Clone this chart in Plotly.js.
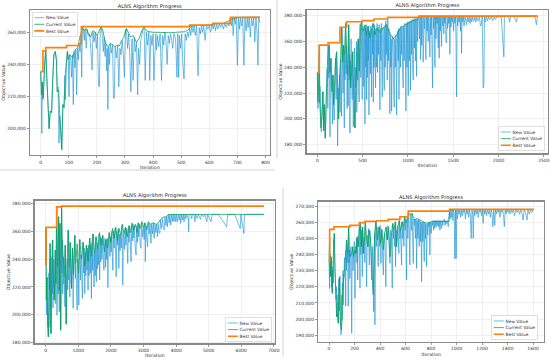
<!DOCTYPE html>
<html><head><meta charset="utf-8">
<script src="https://cdn.plot.ly/plotly-3.0.1.min.js"></script>
<style>
html,body{margin:0;padding:0;overflow:hidden;background:#fff;width:550px;height:361px}
#wrap{width:550px;height:361px;overflow:hidden;position:relative}
#chart{width:1650px;height:1083px;transform:scale(0.3333333);transform-origin:0 0;position:absolute;left:0;top:0}
</style>
</head><body><div id="wrap"><div id="chart"></div></div>
<script>
// ---------- Panel 1 ----------
const p1NewX=[0,2,4,6,8,10,14,18,22,26,30,34,39,43,47,52,56,59,62,65,68,71,75,79,83,86,88,92,95,98,101,103,107,110,113,116,119,122,125,128,131,134,137,140,143,146,148,152,155,158,162,165,170,174,178,183,186,190,194,198,202,206,209,212,216,220,223,226,229,232,235,237,239,242,245,248,252,256,259,262,265,270,274,278,282,286,290,294,298,302,305,309,313,317,321,325,329,333,337,341,345,348,352,356,360,364,368,372,376,380,385,388,392,396,400,403,406,410,412,416,420,425,430,434,438,442,446,450,454,458,462,466,470,474,480,485,488,491,494,498,502,506,510,514,518,522,526,530,534,538,542,546,550,555,560,564,568,572,576,580,585,590,595,600,605,610,614,618,622,626,630,635,640,645,650,655,660,665,670,675,679,682,685,689,692,696,700,704,708,711,715,719,723,727,731,735,738,742,746,750,754,758,762,766,770,773,776,780];
const p1NewY=[235.5,227,197,229,218,224,239,249,231,215,200,211,210,231,246,248,243,223,226,191,208,200,187,215,213,233,218,240,248,243,220,246,243,232,246,215,248,238,249,221,250,243,253,248,258,232,263,261,255,262,250,262,258,259,250,236.5,260,254,260,250,258,226.5,226,262,263,256,248,257,245,253,236,250,212,251,240,253,247,252,219,219,251,244,252,226,250,246,255,247,232,261,262,250,259,246,223,256,230,257,248,254,221,250,240,255,258,262,263,230,260,252,260,230,258,252,259,230,245,259,249,258,251,259,230,258,252,260,254,240,258,253,259,255,250,259,256,232,259,232,258,250,259,240,231,259,255,260,257,263,258,264,260,264,258,264,233,263,259,264,260,264,255,264,262,264,260,265,262,265.5,261,265,262,265.5,263,265.5,262,265.5,263,265.5,264,269,264,269,258,269,265,269,239.5,269,262,269,264,269,239.5,269,261,269,263,269,257,269,264,269,254,269,260,239.5,269,266];
const p1CurX=[0,3,6,9,14,18,22,26,30,34,39,43,47,52,56,59,64,68,71,75,79,83,88,95,98,103,109,115,119,127,133,139,145,148,155,162,170,178,185,192,200,208,215,220,226,232,240,248,256,264,272,280,288,296,305,312,320,330,340,350,360,368,375,385,400,420,440,460,480,500,515,525,535,560,600,620,650,680,700,740,780];
const p1CurY=[235.5,221,229,219,239.5,249,231,215,200,211,210,231,246,248,243,223,224,208,200,187,215,213,235,248,243,246,245,244,248,250,251,257,260,263.5,261,262.5,259,257,261,260.5,258,261,263.3,262,257,253,251,253,252.5,251,252,251.5,255,257,262.5,260,257,258,254,256,261,263.3,261,260.5,260,260,259.8,259.7,260,260.2,260.4,261.5,263.8,264.3,264.5,265.3,265.5,268,269.2,269.4,269.5];
const p1BestX=[0,8,18,92,135,145,530,612,675,780];
const p1BestY=[235.5,248.5,250.5,251.8,253,263.5,264.5,265.6,269.3,269.3];

// ---------- Panel 2 ----------
const p2NewX=[0,5,8,12,15,22,26,29,35,40,45,51,56,62,66,70,77,85,88,94,99,105,110,116,121,126,132,140,146,151,157,162,169,173,180,187,191,197,202,208,213,218,224,230,235,241,246,252,257,262,268,272,279,284,290,298,301,306,312,318,323,329,335,341,346,351,357,360,364,368,373,379,385,390,397,404,410,415,420,426,432,436,441,446,452,457,463,468,474,480,489,493,496,500,507,512,518,526,530,535,540,544,548,553,558,562,566,570,575,581,586,590,594,599,603,608,613,618,622,627,632,637,643,648,654,660,665,670,676,682,686,691,696,701,706,712,717,722,728,733,739,744,750,756,762,766,772,778,784,790,795,801,806,812,816,820,826,832,838,843,849,855,862,868,875,880,886,892,897,901,907,912,918,924,930,936,942,948,953,960,966,972,978,983,990,996,1004,1010,1016,1022,1029,1035,1041,1047,1053,1059,1065,1071,1077,1083,1089,1095,1101,1107,1113,1121,1128,1134,1140,1146,1151,1157,1163,1169,1175,1182,1188,1193,1199,1205,1212,1218,1224,1230,1236,1242,1248,1255,1261,1267,1272,1278,1284,1291,1298,1304,1310,1316,1322,1328,1334,1340,1345,1351,1357,1363,1371,1377,1383,1390,1396,1402,1408,1414,1420,1426,1432,1438,1445,1451,1457,1463,1469,1476,1482,1490,1497,1504,1511,1518,1525,1531,1537,1543,1550,1557,1565,1572,1580,1586,1592,1598,1605,1612,1620,1630,1640,1647,1655,1665,1675,1685,1695,1705,1715,1730,1740,1750,1760,1775,1790,1800,1812,1820,1831,1838,1845,1855,1865,1880,1890,1905,1920,1935,1950,1965,1980,2000,2030,2059,2065,2080,2110,2124,2135,2170,2198,2210,2280,2350,2400,2419,2430];
const p2NewY=[236,222,208,225,229,250,212,225,205,193,190,203,215,221,205,191,211,194,185,200,216,226,239,208,259,232,257,186,236,247,225,221,196,234,211,199,224,238,247,215,252,230,179,224,200,222,234,205,246,226,202,271,244,220,257,193,250,230,274,235,257,208,234,210,273,230,250,189,245,224,262,237,215,252,194,216,255,193,240,224,260,205,252,230,262,220,213,260,273,232,275,240,215,270,268,225,272,196,270,240,273,215,266,232,272,245,270,203,268,263,235,272,245,217,270,250,274,213,268,240,273,250,224,270,240,274,236,271,250,273,235,207,270,245,274,240,217,270,271,245,222,272,240,276,250,273,230,277,245,270,235,204,266,240,262,206,250,264,262,225,209,262,240,265,203,255,268,245,270,215,260,270,240,272,250,271,235,224,272,245,274,250,206,274,240,275,218,275,245,276,222,276,250,277,240,230,277,255,278,245,277,233,278,260,278,279.7,262,279,246,279,257,279,265,244,279,270,279,255,246,279,268,279,260,279,272,248,279,265,279,255,224,279,270,279,240,279,262,279,274,279,255,279,247,279,268,279,256,279,272,279,266,279,274,279,260,259,279,270,279,274,279,250,279,271,279,275,279,268,279,274,279,262,217,279,272,279,275,279,268,279,251,279,275,279,272,279,276,273,279,275,279,274,279,275,279,276,279,275,279,276,279,272,274,279,224,226,279,275,279,276,279,277,279,276,279,277,279,279,279.5,248,279.5,279.6,279.6,275,279.6,279.6,275,279.6,279.6,279.6,279.6,273,279.7];
const p2CurX=[0,7,15,22,29,40,51,62,70,77,88,99,110,121,132,140,151,162,173,180,191,202,213,224,235,246,257,268,279,290,301,312,323,335,346,357,368,379,390,404,415,426,441,452,463,474,489,507,526,544,562,581,599,618,636,654,691,728,765,801,838,875,912,950,1000,1050,1100,1121,1300,1600,2000,2430];
const p2CurY=[236,213,229,257,211,193,203,221,191,211,185,216,239,259,257,236,247,221,234,211,224,247,252,224,200,234,246,271,244,257,250,274,257,234,273,250,224,237,252,216,193,224,252,262,237,273,275,268,273,265,272,263,269,274,265,270,267,271,273,266,262,265,270,272,274,276,277,279.7,279.5,279.6,279.6,279.7];
const p2BestX=[0,22,121,250,323,496,625,776,1121,2430];
const p2BestY=[236,257.2,259,271,275.3,276.1,277.4,278.7,279.7,279.7];

// ---------- Panel 3 ----------
const p3NewX=[0,10,20,30,41,51,61,71,81,95,112,122,132,142,162,175,193,203,213,223,233,248,264,280,294,305,315,335,345,365,380,396,416,426,436,446,457,467,477,487,497,508,520,538,553,568,589,599,612,629,645,660,675,690,705,721,741,751,770,792,807,822,842,853,873,893,908,924,945,964,980,1005,1015,1030,1045,1065,1080,1096,1112,1127,1147,1165,1182,1198,1215,1230,1248,1265,1280,1299,1315,1330,1350,1370,1385,1401,1420,1435,1450,1465,1482,1500,1520,1535,1553,1570,1585,1600,1620,1635,1655,1675,1690,1710,1725,1750,1770,1786,1800,1820,1837,1855,1870,1890,1908,1925,1950,1970,1990,2010,2030,2045,2060,2080,2100,2125,2145,2162,2180,2200,2225,2243,2260,2280,2300,2320,2340,2365,2385,2400,2420,2440,2460,2480,2500,2517,2535,2555,2575,2595,2619,2640,2660,2680,2700,2720,2740,2771,2790,2810,2830,2850,2870,2900,2923,2945,2970,3000,3020,3040,3055,3075,3100,3126,3150,3175,3200,3228,3250,3275,3300,3329,3350,3380,3400,3431,3450,3475,3502,3520,3550,3580,3610,3634,3660,3690,3710,3735,3760,3790,3810,3837,3860,3890,3910,3938,3960,3990,4010,4040,4070,4100,4120,4141,4170,4200,4220,4243,4270,4300,4330,4375,4385,4400,4450,4480,4500,4550,4578,4600,4649,4680,4750,4780,4852,4880,4943,4970,5075,5105,5130,5300,5552,5580,5800,5968,5990,6080,6100,6120,6400,6700];
const p3NewY=[235.7,262,210.5,200,227,215,191.4,201,184.2,230,217.7,240,191,251,186.6,220,241.7,215,253.7,205,227.3,240,210.5,225,246.5,208,222.5,277,199.8,234.5,215,270.4,202.2,240,265.6,220,189,191.4,250,277.6,230,253.7,215,241.7,222,227.3,205.8,250,215,193.3,230,240,218,260.8,225,234,212.9,252,228,219,240,248,204.6,229,240,257,226,237,218,203.4,240,230,207,245,254,225,243,240,222,211.7,252,230,248,215.3,245,228,250,232,248,217.7,250,228,255,230,250,211.7,252,232,258,236,220.1,244,228,256,223.7,252,233,247,236,258,225,256,238,255,240,257,238,232,245,255,234,254,240,255,219.6,252,259,242,256,245,260,242,232,260,248,262,242,227.3,260,250,262,233.3,258,246,257,248,264,221.3,258,258,247,262,250,262,249,236.9,262,252,264,250,238.1,264,253,265,255,264,250,242.9,264,252,266,256,265,250,247.7,266,256,263,254,266,238.1,264,255,248.9,266,258,265,251.3,265,258,266,254.9,265,259,265,256.1,265,259,258.4,268,262,269,262,260.8,270,264,270.5,263.2,272,266,272,264.4,272,267,272,266.8,272,267,272,266.8,272,268,272,265.6,272,268,272,266.8,272,269,272,268.5,259.6,272,272,269,272,272,266.8,272,269.2,272,268.5,272,270.4,272,266.8,272,266.8,272,272,272,263.2,272,272,262,272,258.4,272,272,272,272.1];
const p3CurX=[0,10,20,41,61,81,112,132,162,193,213,233,264,294,315,335,365,396,416,436,457,487,508,538,568,599,629,660,690,721,751,792,822,853,893,924,964,1005,1045,1096,1147,1198,1248,1300,1350,1400,1450,1500,1550,1600,1650,1700,1750,1800,1850,1900,1950,2000,2050,2100,2150,2200,2250,2300,2350,2400,2450,2500,2550,2600,2650,2700,2750,2800,2850,2900,2950,3000,3050,3100,3150,3200,3300,3400,3450,3500,3600,3700,3776,4000,4500,5000,5500,6000,6700];
const p3CurY=[235.7,262,210.5,227,191.4,184.2,217.7,251.3,186.6,241.7,253.7,227.3,210.5,246.5,222.5,277,234.5,270.4,217.7,265.6,189,277.6,253.7,241.7,227.3,250,193.3,240,260.8,234,252,219,248,229,257,237,251,230,254,240,252,235,250,238,255,242,258,244,256,247,259,250,257,245,254,248,259,252,262,255,263,253,262,257,265,258,263,256,264,259,266,261,265,259,266,262,267,263,266,261,267,265,266,265,265.6,268,270,270.5,272,272,272.1,272.1,272.1,272.1,272.1];
const p3BestX=[0,10,335,487,6700];
const p3BestY=[235.7,262.8,277.5,278,278];

// ---------- Panel 4 ----------
const p4NewX=[0,3,5,8,10,13,16,19,21,24,26,29,31,34,37,40,42,45,47,51,55,58,60,63,65,69,73,76,78,81,84,87,89,94,97,100,102,105,107,110,112,115,117,121,125,128,131,133,136,138,142,146,151,154,157,159,163,167,172,178,181,185,189,193,198,204,208,211,215,218,222,225,228,230,234,238,243,245,249,253,257,261,265,269,273,277,281,285,290,295,300,305,310,316,320,326,330,334,337,340,344,347,350,353,358,360,364,368,372,376,381,386,390,392,396,401,405,407,411,415,420,426,430,436,441,446,450,457,461,467,472,478,483,488,492,496,500,505,509,514,520,522,526,530,535,540,544,548,551,556,561,565,569,572,577,582,587,593,598,603,608,611,614,618,624,629,634,638,642,647,652,656,661,666,670,674,679,683,687,692,697,702,707,713,718,722,726,730,735,739,743,747,751,756,760,765,770,775,780,783,787,791,795,802,806,811,815,820,825,830,835,840,845,850,855,860,865,870,875,883,888,893,898,905,910,915,920,928,935,940,945,950,955,960,966,971,977,982,987,992,997,1002,1008,1013,1020,1026,1032,1038,1045,1051,1057,1063,1070,1076,1083,1089,1095,1102,1108,1115,1121,1127,1131,1137,1143,1150,1157,1163,1170,1177,1184,1190,1197,1203,1209,1215,1222,1228,1235,1242,1250,1257,1265,1272,1279,1285,1292,1300,1306,1313,1320,1327,1334,1341,1348,1355,1362,1369,1375,1382,1389,1396,1404,1411,1420,1428,1436,1445,1455,1465,1475,1485,1495,1505,1515,1522,1530,1540,1553,1560,1570,1580,1590,1600,1606];
const p4NewY=[235.2,228,219,240,226.3,236,227.3,238,220.1,230,216,228,232.5,222.2,249,245,253.1,235,230.4,225,211.9,220,201.5,210,203.6,215,197.4,225,218,205,226.3,210,199.5,190.2,193.3,215,199.5,222,218,230,208.8,228,226.3,238,234.5,228,208,242.8,230,249,235,240.7,208,257.2,235,242.8,225,238.7,245,191.2,240,244.8,230,238.7,248,212.9,245,240.7,250,235,251,224.2,248,244.8,252,257.2,219.1,259.3,240,244.8,255,226.3,257,240.7,250,251,235,260.3,245,220.1,252,244.8,256,233.5,255,249,240,224.2,228.3,245,230,215,204.6,240,253,196.4,255,260.3,245,257,249,232.5,255,257,245,258,247,234.5,256,255,240,227.3,250,253,240,220.1,257,249,258,257,245,234.5,255,251,240,219.1,259,250,255,245,260.3,232.5,255,244.8,258,257,248,240.7,261,250,255,245,233.5,260.3,250,257,245,263.4,255,259.3,224.2,260,262.4,250,265.9,255,233.5,262,265,255,265.5,250,234.5,262,258,261.3,250,262,231.4,261,250,262,245,261.3,248,260,223.2,260,248,260.3,250,235.6,260,250,259,232.5,259,252,260,257.2,260,239.7,260,253.1,260,258,261,255,261,256.2,261,257,261,258,261,257,261,255,261,256.2,261,258,261,262,258,261,259,261,257.2,261,267,262,267.5,263,267.5,261,267.5,265,237.2,267.5,237.6,267.8,262,267.8,265,267.8,263,267.8,264,267.8,266,267.8,262,267.8,265,267.8,263,267.8,265,250,267.8,265,250,267.8,264,267.8,265,267.8,263,267.8,266,267.8,264,267.8,259.3,267.8,265,267.8,264,267.8,265,267.8,263,267.8,265,257.2,267.8,258.2,267.8,265,267.8,266,267.8,263,267.8,266,267.8,264,257.2,267.8,265,267.8,266,267.8,265,267.8,266,267.8,264,267.8,266,267.8,265,267.8,265,261.3,267.8,266,261.3,267.8,265,267.8,266,267.8,267.9];
const p4CurX=[0,5,10,16,21,26,31,37,42,47,55,60,65,73,78,84,89,97,102,107,112,117,125,133,138,146,154,159,167,178,185,193,204,211,222,230,238,245,253,261,269,277,285,295,305,316,326,337,347,358,368,381,392,405,415,426,436,446,457,467,478,488,499,509,520,530,540,551,561,572,582,593,603,614,624,634,647,661,674,687,713,739,765,800,850,900,940,945,1000,1200,1400,1606];
const p4CurY=[235.2,250,226.3,238.7,220.1,216,232.5,249,253.1,230.4,211.9,201.5,203.6,197.4,218,226.3,199.5,193.3,199.5,218,222.2,226.3,234.5,242.8,249,240.7,257.2,242.8,238.7,240.7,244.8,238.7,242.8,240.7,251,244.8,257.2,259.3,244.8,257,240.7,251,260.3,249,244.8,255,249,228.3,215,253,260.3,249,257,247,255,242.8,253,257,249,257,238.7,251,259.3,255,260.3,244.8,257,261,255,260.3,257,263.4,259.3,262.4,265.9,264.5,265.5,263.4,261.3,262.4,261.3,260.3,259.3,260.3,260.5,260.5,260.5,267.1,267.9,267.9,267.9,267.9];
const p4BestX=[0,5,39,164,238,282,373,465,556,621,945,1606];
const p4BestY=[235.2,255.6,257.2,258,259.7,260.5,260.9,261.8,263.4,266.9,267.9,267.9];

const seriesNames=['New Value','Current Value','Best Value'];
const chartTitle='ALNS Algorithm Progress';
const xLabel='Iteration', yLabel='Objective Value';

// ---------- build (drawn at 3x, displayed scaled to 550x361) ----------
const W=550,H=361,S=3;
const fx=v=>v/W, fy=v=>(H-v)/H;
const K=a=>a.map(v=>v*1000);
const FONT='DejaVu Sans';
const BLUE='rgba(30,150,212,0.8)', GREEN='rgba(4,160,84,0.88)', ORANGE='#ff7f0e';

const panels=[
 {nx:p1NewX,ny:p1NewY,cx:p1CurX,cy:p1CurY,bx:p1BestX,by:p1BestY,
  dx:[30,270],dy:[155,10],xr:[-38,816],yr:[183600,273900],xt:100,yt:20000,ty:6},
 {nx:p2NewX,ny:p2NewY,cx:p2CurX,cy:p2CurY,bx:p2BestX,by:p2BestY,
  dx:[306.7,548],dy:[153.3,10],xr:[-117,2546],yr:[173300,284400],xt:500,yt:20000,ty:5.7},
 {nx:p3NewX,ny:p3NewY,cx:p3CurX,cy:p3CurY,bx:p3BestX,by:p3BestY,
  dx:[34.8,275],dy:[343.3,200.7],xr:[-335,7035],yr:[179600,281900],xt:1000,yt:20000,ty:195},
 {nx:p4NewX,ny:p4NewY,cx:p4CurX,cy:p4CurY,bx:p4BestX,by:p4BestY,
  dx:[318.3,544],dy:[341.7,201.7],xr:[-84,1686],yr:[186000,272700],xt:200,yt:10000,ty:197.5}
];
const legPos=[
 {x:fx(32),y:fy(12),xanchor:'left',yanchor:'top'},
 {x:fx(544.5),y:fy(151),xanchor:'right',yanchor:'bottom'},
 {x:fx(271.5),y:fy(342),xanchor:'right',yanchor:'bottom'},
 {x:fx(537.5),y:fy(340),xanchor:'right',yanchor:'bottom'}
];

const traces=[];
const layout={width:W*S,height:H*S,margin:{l:0,r:0,t:0,b:0},paper_bgcolor:'#fff',plot_bgcolor:'#fff',
  showlegend:true,font:{family:FONT,color:'#333'},annotations:[],shapes:[]};

function axisBase(){return {showgrid:true,gridcolor:'#e9e9e9',gridwidth:2,zeroline:false,showline:true,mirror:true,
  linecolor:'#8a8a8a',linewidth:4,ticks:'outside',ticklen:6,tickwidth:2,tickcolor:'#666',ticklabeloverflow:'allow',
  tickfont:{family:FONT,size:13.5,color:'#333'},fixedrange:true,automargin:false};}

panels.forEach((p,i)=>{
  const n=i===0?'':String(i+1);
  const xa='x'+n, ya='y'+n, lg='legend'+n;
  traces.push({type:'scatter',mode:'lines',x:p.nx,y:K(p.ny),name:seriesNames[0],xaxis:xa,yaxis:ya,legend:lg,
    line:{color:BLUE,width:2.4},hoverinfo:'skip'});
  traces.push({type:'scatter',mode:'lines',x:p.cx,y:K(p.cy),name:seriesNames[1],xaxis:xa,yaxis:ya,legend:lg,
    line:{color:GREEN,width:2.6},hoverinfo:'skip'});
  traces.push({type:'scatter',mode:'lines',x:p.bx,y:K(p.by),name:seriesNames[2],xaxis:xa,yaxis:ya,legend:lg,
    line:{color:ORANGE,width:5,shape:'hv'},hoverinfo:'skip'});
  const xax=Object.assign(axisBase(),{domain:[fx(p.dx[0]),fx(p.dx[1])],range:p.xr,tick0:0,dtick:p.xt,tickformat:'d',
    anchor:ya,title:{text:xLabel,font:{family:FONT,size:14,color:'#333'},standoff:3}});
  const yax=Object.assign(axisBase(),{domain:[fy(p.dy[0]),fy(p.dy[1])],range:p.yr,tick0:0,dtick:p.yt,tickformat:',d',
    anchor:xa,title:{text:yLabel,font:{family:FONT,size:14,color:'#333'},standoff:4}});
  layout['xaxis'+n]=xax; layout['yaxis'+n]=yax;
  layout['legend'+n]=Object.assign({xref:'paper',yref:'paper',bgcolor:'rgba(255,255,255,0.85)',bordercolor:'#cfcfcf',
    borderwidth:2,font:{family:FONT,size:13,color:'#333'},tracegroupgap:0,itemwidth:30},legPos[i]);
  layout.annotations.push({text:chartTitle,xref:'paper',yref:'paper',x:fx((p.dx[0]+p.dx[1])/2),y:fy(p.ty),
    xanchor:'center',yanchor:'middle',showarrow:false,font:{family:FONT,size:15.5,color:'#2a2a2a'}});
});

// thin frames of the composite figure
const frame={type:'line',xref:'paper',yref:'paper',line:{color:'#d2d2d2',width:3}};
layout.shapes.push(Object.assign({},frame,{x0:0,x1:fx(275),y0:fy(170),y1:fy(170)}));
layout.shapes.push(Object.assign({},frame,{x0:fx(277),x1:fx(277),y0:fy(0),y1:fy(158)}));
layout.shapes.push(Object.assign({},frame,{x0:fx(283),x1:fx(283),y0:fy(188),y1:fy(357)}));

Plotly.newPlot('chart',traces,layout,{staticPlot:true,displayModeBar:false});
</script></body></html>
